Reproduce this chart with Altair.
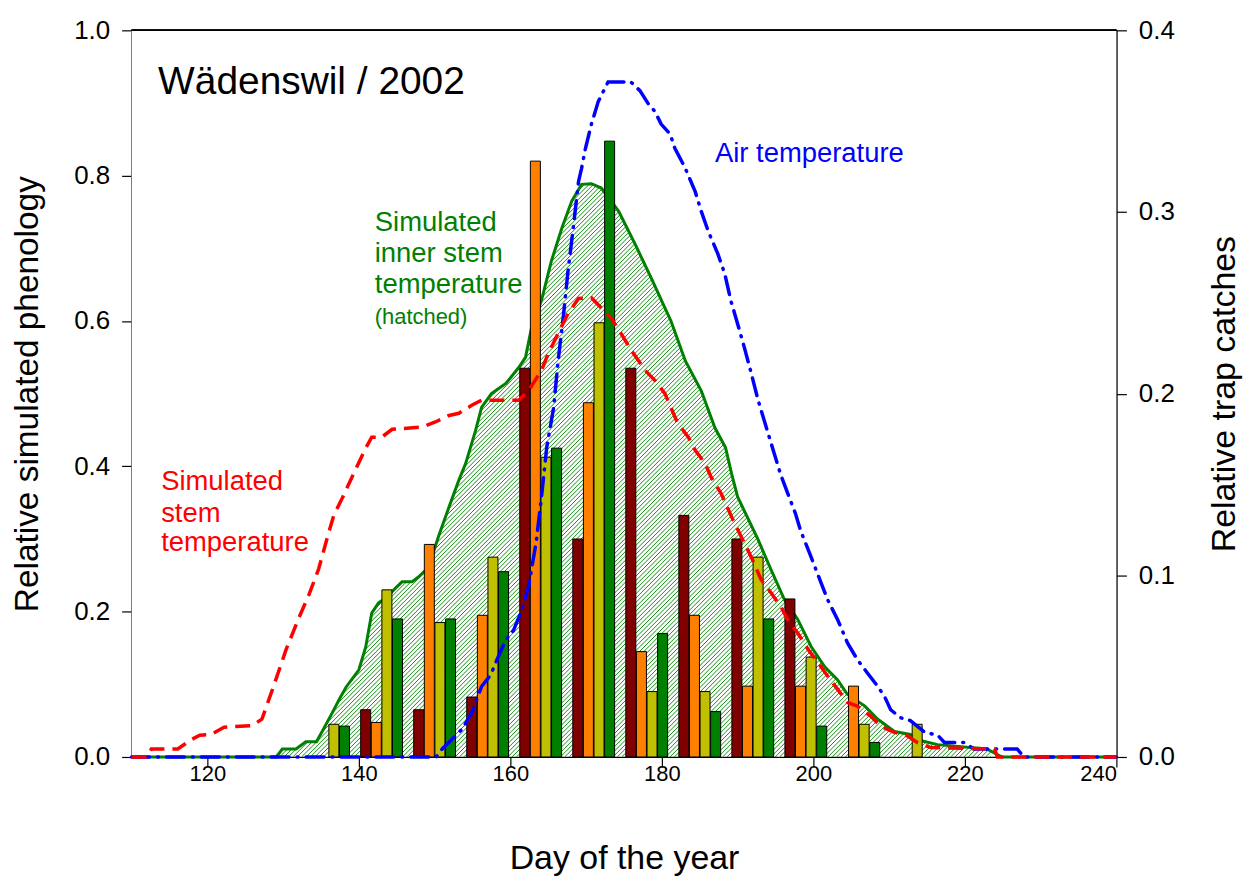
import altair as alt
import pandas as pd

# ---------------- data ----------------
# weekly trap catches (relative, right axis), four bars per week
week_days = [136, 143, 150, 157, 164, 171, 178, 185, 192, 199, 206, 213]
series_names = ["Falle 1", "Falle 2", "Falle 3", "Falle 4"]
series_colors = ["#800000", "#ff8000", "#c0c000", "#008000"]
catch_1 = [0, 0.026, 0.026, 0.033, 0.214, 0.120, 0.214, 0.133, 0.120, 0.087, 0, 0]
catch_2 = [0, 0.019, 0.117, 0.078, 0.328, 0.195, 0.058, 0.078, 0.039, 0.039, 0.039, 0]
catch_3 = [0.018, 0.092, 0.074, 0.110, 0.165, 0.239, 0.036, 0.036, 0.110, 0.055, 0.018, 0.018]
catch_4 = [0.017, 0.076, 0.076, 0.102, 0.170, 0.339, 0.068, 0.025, 0.076, 0.017, 0.008, 0]

# simulated phenology, stem temperature (red dashed)
red_days = [110.0, 112.1, 112.6, 116.1, 117.9, 119.0, 120.5, 122.2, 125.9, 127.2, 128.6, 130.4,
            132.1, 133.4, 134.7, 135.7, 136.7, 137.8, 139.4, 140.9, 141.7, 143.0, 144.4, 148.3,
            150.1, 151.9, 153.2, 154.9, 156.2, 161.1, 162.4, 164.1, 165.0, 166.3, 167.6, 169.0,
            170.7, 172.0, 173.3, 174.6, 176.0, 177.8, 179.1, 180.4, 182.1, 183.5, 184.4, 185.7,
            186.5, 187.8, 189.4, 191.8, 193.1, 194.4, 195.7, 196.6, 197.9, 199.3, 200.6, 201.9,
            203.2, 204.5, 205.8, 207.6, 208.9, 210.7, 212.4, 213.7, 215.5, 223.9, 224.3, 240.0]
red_vals = [0, 0, 0.011, 0.011, 0.024, 0.030, 0.031, 0.041, 0.043, 0.052, 0.093, 0.148,
            0.192, 0.223, 0.259, 0.297, 0.333, 0.356, 0.392, 0.425, 0.440, 0.440, 0.451, 0.454,
            0.461, 0.470, 0.473, 0.484, 0.491, 0.491, 0.504, 0.532, 0.555, 0.583, 0.610, 0.631,
            0.632, 0.618, 0.604, 0.583, 0.559, 0.532, 0.518, 0.500, 0.459, 0.440, 0.422, 0.404,
            0.385, 0.363, 0.326, 0.275, 0.244, 0.226, 0.207, 0.189, 0.171, 0.148, 0.130, 0.111,
            0.093, 0.075, 0.070, 0.056, 0.042, 0.034, 0.029, 0.020, 0.013, 0.011, 0, 0]

# simulated phenology, inner stem temperature (green, hatched)
green_days = [110.0, 129.1, 129.9, 131.7, 133.0, 134.4, 135.1, 136.5, 137.4, 138.3, 140.0, 140.9,
              141.7, 142.6, 143.6, 144.9, 145.7, 147.0, 147.9, 149.2, 150.5, 151.9, 153.2, 154.1,
              155.4, 156.2, 157.5, 159.4, 161.1, 162.0, 162.8, 164.1, 165.4, 166.8, 168.1, 169.4,
              170.7, 172.0, 174.3, 176.5, 178.6, 180.4, 181.2, 183.1, 185.2, 187.0, 188.4, 189.2,
              190.0, 192.7, 194.4, 196.2, 197.9, 199.7, 201.5, 203.2, 204.5, 206.8, 208.5, 210.7,
              212.8, 214.4, 216.4, 222.9, 224.9, 240.0]
green_vals = [0, 0, 0.011, 0.011, 0.021, 0.021, 0.034, 0.061, 0.079, 0.096, 0.120, 0.151,
              0.198, 0.212, 0.219, 0.233, 0.241, 0.241, 0.248, 0.261, 0.303, 0.344, 0.381, 0.404,
              0.449, 0.481, 0.500, 0.514, 0.536, 0.550, 0.591, 0.628, 0.682, 0.728, 0.765, 0.788,
              0.789, 0.783, 0.751, 0.705, 0.659, 0.618, 0.600, 0.545, 0.504, 0.453, 0.426, 0.390,
              0.358, 0.299, 0.258, 0.216, 0.190, 0.152, 0.124, 0.106, 0.086, 0.070, 0.052, 0.035,
              0.031, 0.022, 0.017, 0.011, 0, 0]

# simulated phenology, air temperature (blue dash-dot)
blue_days = [110.0, 150.2, 151.0, 153.6, 154.9, 156.2, 157.4, 158.4, 159.4, 160.4, 161.5, 162.4,
             163.0, 163.4, 164.1, 164.8, 165.7, 166.3, 167.0, 167.6, 168.3, 169.0, 169.4, 169.9,
             170.7, 171.6, 172.9, 175.9, 177.1, 178.2, 179.1, 179.9, 181.1, 181.7, 183.1, 184.4,
             185.2, 186.1, 187.4, 188.3, 189.1, 190.0, 190.9, 191.8, 192.7, 193.6, 194.7, 195.7,
             196.6, 197.6, 198.3, 199.7, 201.0, 201.9, 203.2, 204.5, 205.8, 207.1, 208.5, 209.4,
             210.2, 211.5, 212.8, 214.7, 216.4, 217.3, 219.9, 221.2, 226.9, 227.8, 240.0]
blue_vals = [0, 0, 0.011, 0.038, 0.061, 0.097, 0.113, 0.138, 0.161, 0.174, 0.202, 0.234,
             0.271, 0.295, 0.357, 0.426, 0.480, 0.545, 0.607, 0.668, 0.728, 0.792, 0.810, 0.837,
             0.871, 0.902, 0.929, 0.929, 0.917, 0.899, 0.888, 0.871, 0.857, 0.838, 0.810, 0.778,
             0.751, 0.724, 0.692, 0.665, 0.628, 0.596, 0.563, 0.528, 0.491, 0.460, 0.422, 0.388,
             0.363, 0.336, 0.312, 0.275, 0.240, 0.216, 0.189, 0.157, 0.134, 0.116, 0.097, 0.083,
             0.065, 0.054, 0.050, 0.034, 0.030, 0.020, 0.020, 0.011, 0.011, 0, 0]

# annotations
ann_text = ["Wädenswil / 2002", "Air temperature",
            "Simulated", "inner stem", "temperature", "(hatched)",
            "Simulated", "stem", "temperature"]
ann_day = [113.5, 187.0, 142.1, 142.1, 142.1, 142.1, 113.9, 113.9, 113.9]
ann_val = [0.913, 0.819, 0.724, 0.681, 0.639, 0.596, 0.367, 0.324, 0.283]
ann_size = [39, 27.5, 27.5, 27.5, 27.5, 22, 27.5, 27.5, 27.5]
ann_color = ["black", "#0000ff", "#008000", "#008000", "#008000", "#008000",
             "#ff0000", "#ff0000", "#ff0000"]

# ---------------- tables ----------------
rows = []
for i, (s, vals) in enumerate(zip(series_names, [catch_1, catch_2, catch_3, catch_4])):
    for w, v in zip(week_days, vals):
        if v > 0:
            rows.append({"week": w, "series": s, "idx": i, "value": v})
bars_df = pd.DataFrame(rows)
red_df = pd.DataFrame({"day": red_days, "val": red_vals})
green_df = pd.DataFrame({"day": green_days, "val": green_vals})
blue_df = pd.DataFrame({"day": blue_days, "val": blue_vals})
ann_df = pd.DataFrame({"text": ann_text, "day": ann_day, "val": ann_val,
                       "size": ann_size, "color": ann_color})

FONT = "Liberation Sans"
W, H = 988, 729
X0, X1 = 110, 240

# hatch texture: 45-degree lines limited to the box around the green curve,
# masked above the curve afterwards
px_per_day = W / (X1 - X0)
slope_days = H / px_per_day          # days covered while rising 1.0 at 45 degrees
step_days = 4.4 / px_per_day         # spacing between hatch lines (~4.4 px)
hx_lo = min(green_days[1:]) - 0.5
hx_hi = max(d for d, v in zip(green_days, green_vals) if v > 0) + 0.5
hv_hi = max(green_vals) + 0.01
n_hatch = int(((hx_hi - hx_lo) + slope_days * hv_hi) / step_days) + 2
hatch_df = pd.DataFrame({"h0": [hx_lo - slope_days * hv_hi + k * step_days for k in range(n_hatch)]})

xscale = alt.Scale(domain=[X0, X1], nice=False, zero=False)
xaxis = alt.Axis(values=[120, 140, 160, 180, 200, 220, 240], title="Day of the year",
                 titleY=112, titleBaseline="alphabetic", labelFontSize=22, labelPadding=-3)
yscale = alt.Scale(domain=[0, 1], nice=False)

hatch = alt.Chart(hatch_df).transform_calculate(
    xs=f"max(datum.h0, {hx_lo})",
    xe=f"min(datum.h0 + {slope_days * hv_hi}, {hx_hi})",
).transform_filter("datum.xe > datum.xs").transform_calculate(
    vs=f"(datum.xs - datum.h0) / {slope_days}",
    ve=f"(datum.xe - datum.h0) / {slope_days}",
).mark_rule(color="#159015", strokeWidth=1.0).encode(
    x=alt.X("xs:Q", scale=xscale, axis=xaxis),
    x2="xe:Q",
    y=alt.Y("vs:Q", scale=yscale,
            axis=alt.Axis(orient="left", values=[0, 0.2, 0.4, 0.6, 0.8, 1.0], format=".1f",
                          title="Relative simulated phenology", titleX=-94, titleY=H / 2,
                          titleAngle=270, titleBaseline="alphabetic", titleFontSize=33.5)),
    y2="ve:Q",
)
mask = alt.Chart(green_df).transform_calculate(top="1").mark_area(
    color="white", interpolate="linear"
).encode(
    x=alt.X("day:Q", scale=xscale, axis=xaxis),
    y=alt.Y("val:Q", scale=yscale),
    y2="top:Q",
)
green_line = alt.Chart(green_df).mark_line(color="#008000", strokeWidth=3).encode(
    x=alt.X("day:Q", scale=xscale, axis=xaxis),
    y=alt.Y("val:Q", scale=yscale),
)
layer_a = alt.layer(hatch, mask, green_line)

bars = alt.Chart(bars_df).transform_calculate(
    x_lo="datum.week + (datum.idx - 1.5) * 1.4 - 0.66",
    x_hi="datum.week + (datum.idx - 1.5) * 1.4 + 0.66",
    base="0",
).mark_rect(stroke="black", strokeWidth=1).encode(
    x=alt.X("x_lo:Q", scale=xscale, axis=xaxis),
    x2="x_hi:Q",
    y=alt.Y("value:Q", scale=alt.Scale(domain=[0, 0.4], nice=False),
            axis=alt.Axis(orient="right", values=[0, 0.1, 0.2, 0.3, 0.4], format=".1f",
                          title="Relative trap catches", titleX=118.5, titleY=H / 2,
                          titleAngle=270, titleBaseline="alphabetic")),
    y2="base:Q",
    color=alt.Color("series:N", scale=alt.Scale(domain=series_names, range=series_colors),
                    legend=None),
)

blue_line = alt.Chart(blue_df).mark_line(color="#0000ff", strokeWidth=3.5,
                                         strokeDash=[18, 8, 1, 8], strokeCap="round").encode(
    x=alt.X("day:Q", scale=xscale, axis=xaxis),
    y=alt.Y("val:Q", scale=yscale, axis=None),
)
red_line = alt.Chart(red_df).mark_line(color="#ff0000", strokeWidth=3.5,
                                       strokeDash=[15, 8]).encode(
    x=alt.X("day:Q", scale=xscale, axis=xaxis),
    y=alt.Y("val:Q", scale=yscale, axis=None),
)
texts = alt.Chart(ann_df).mark_text(align="left", baseline="alphabetic", font=FONT).encode(
    x=alt.X("day:Q", scale=xscale, axis=xaxis),
    y=alt.Y("val:Q", scale=yscale, axis=None),
    text="text:N",
    size=alt.Size("size:Q", scale=None, legend=None),
    color=alt.Color("color:N", scale=None, legend=None),
)
top_border = alt.Chart(ann_df).mark_rule(color="black", strokeWidth=1.2).encode(
    x=alt.value(0), x2=alt.value(W), y=alt.value(0)
)
layer_b = alt.layer(blue_line, red_line, texts, top_border)

chart = alt.layer(layer_a, bars, layer_b).resolve_scale(y="independent").properties(
    width=W, height=H,
    autosize=alt.AutoSizeParams(type="none"),
    padding={"left": 124, "top": 21, "right": 127, "bottom": 118},
    background="white",
).configure_view(stroke="black", strokeWidth=1.2).configure_axis(
    grid=False, zindex=1, domainColor="black", domainWidth=1.2, tickColor="black",
    tickWidth=1.2, tickSize=10, labelFont=FONT, labelFontSize=26, labelColor="black",
    labelPadding=12, titleFont=FONT, titleFontSize=34, titleFontWeight="normal",
    titleColor="black",
).configure_text(font=FONT)

chart.save("out.html", embed_options={"renderer": "svg", "actions": False})
